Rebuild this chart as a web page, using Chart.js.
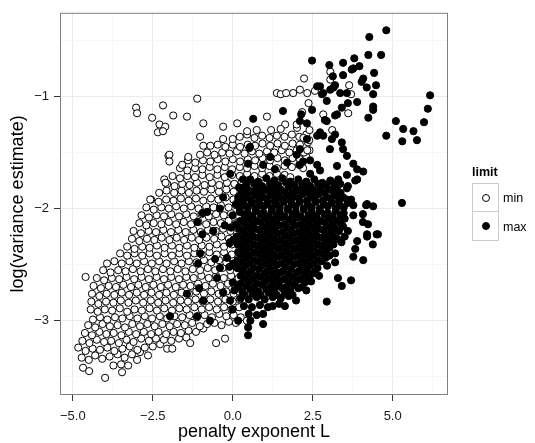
<!DOCTYPE html>
<html>
<head>
<meta charset="utf-8">
<script src="https://cdn.jsdelivr.net/npm/chart.js@4.4.1/dist/chart.umd.min.js"></script>
<style>
  html, body { margin: 0; padding: 0; background: #fff; }
  #wrap { position: relative; width: 535px; height: 443px; }
  #plot { position: absolute; left: 0; top: 0; }
  #legend { position: absolute; left: 472px; top: 165px; font-family: "Liberation Sans", Arial, sans-serif; color: #000; }
  .lg-title { font-size: 12.5px; font-weight: bold; line-height: 15px; height: 18px; }
  .lg-row { display: flex; align-items: center; height: 29px; }
  .lg-key { position: relative; width: 27px; height: 29px; box-sizing: border-box; border: 1px solid #cccccc; background: #fff; }
  .lg-row + .lg-row .lg-key { border-top: none; }
  .lg-dot { position: absolute; left: 50%; top: 50%; width: 6px; height: 6px; margin: -4px 0 0 -4px; border: 1px solid #000; border-radius: 50%; }
  .lg-lab { font-size: 12.5px; margin-left: 4px; }
</style>
</head>
<body>
<div id="wrap">
  <canvas id="plot" width="535" height="443"></canvas>
  <div id="legend"></div>
</div>
<script>
'use strict';

// ── Axes ──────────────────────────────────────────────────────────
const X_MIN = -5.4, X_MAX = 6.73;
const Y_MIN = -3.663, Y_MAX = -0.254;
const xMajor       = [-5, -2.5, 0, 2.5, 5];
const xMajorLabels = ['\u22125.0', '\u22122.5', '0.0', '2.5', '5.0'];
const xMinor       = [-3.75, -1.25, 1.25, 3.75, 6.25];
const yMajor       = [-3, -2, -1];
const yMajorLabels = ['\u22123', '\u22122', '\u22121'];
const yMinor       = [-3.5, -2.5, -1.5, -0.5];

const X_TITLE = 'penalty exponent L';
const Y_TITLE = 'log(variance estimate)';
const LEGEND_TITLE = 'limit';
const SERIES_NAMES = ['min', 'max'];

// ── Data (x = penalty exponent L, y = log variance estimate) ──────
const minPoints = [
  [-4.68,-3.42],[-4.49,-3.45],[-3.99,-3.51],[-3.73,-3.40],[-3.46,-3.46],[-3.49,-3.39],[-3.27,-3.40],[-2.99,-3.35],
  [-4.72,-3.33],[-4.5,-3.35],[-4.3,-3.31],[-4.08,-3.34],[-3.85,-3.32],[-3.6,-3.3],[-3.38,-3.33],[-3.15,-3.3],[-2.9,-3.28],[-2.65,-3.31],
  [-4.83,-3.24],[-4.6,-3.27],[-4.38,-3.25],[-4.15,-3.26],[-3.92,-3.24],[-3.7,-3.27],[-3.45,-3.25],[-3.22,-3.23],[-2.98,-3.26],[-2.75,-3.24],[-2.5,-3.23],[-2.27,-3.21],[-2.05,-3.25],[-1.89,-3.25],
  [-4.7,-3.18],[-4.48,-3.2],[-4.25,-3.17],[-4.02,-3.19],[-3.8,-3.18],[-3.56,-3.2],[-3.32,-3.17],[-3.1,-3.19],[-2.86,-3.16],[-2.62,-3.18],[-2.4,-3.16],[-2.15,-3.17],[-1.92,-3.18],[-1.68,-3.16],[-1.45,-3.15],[-1.33,-3.2],[-0.52,-3.2],[-0.24,-3.16],
  [-4.62,-3.11],[-4.4,-3.13],[-4.17,-3.1],[-3.95,-3.12],[-3.72,-3.11],[-3.48,-3.13],[-3.25,-3.1],[-3.02,-3.12],[-2.78,-3.1],[-2.55,-3.12],[-2.32,-3.1],[-2.08,-3.12],[-1.85,-3.1],[-1.62,-3.11],[-1.38,-3.09],[-1.15,-3.1],[-0.92,-3.07],
  [-4.52,-3.04],[-4.3,-3.06],[-4.07,-3.03],[-3.84,-3.05],[-3.6,-3.04],[-3.37,-3.06],[-3.14,-3.03],[-2.9,-3.05],[-2.67,-3.03],[-2.44,-3.05],[-2.2,-3.03],[-1.97,-3.05],[-1.74,-3.03],[-1.5,-3.04],[-1.27,-3.02],[-1.03,-3.05],[-0.8,-3.03],[-0.57,-3.02],[-0.35,-3.04],[-0.12,-3.01],[0.1,-3.02],[0.44,-3.0],
  [-4.37,-2.99],[-4.15,-2.97],[-3.92,-2.99],[-3.68,-2.97],[-3.45,-2.98],[-3.22,-2.96],[-2.98,-2.98],[-2.75,-2.96],[-2.52,-2.98],[-2.28,-2.96],[-2.05,-2.98],[-1.82,-2.96],[-1.58,-2.97],[-1.35,-2.95],[-1.12,-2.97],[-0.88,-2.95],[-0.65,-2.97],[-0.42,-2.94],[-0.2,-2.96],[0.03,-2.95],[0.25,-2.97],
  [-4.44,-2.9],[-4.22,-2.92],[-4.0,-2.9],[-3.77,-2.91],[-3.53,-2.89],[-3.3,-2.92],[-3.07,-2.9],[-2.84,-2.91],[-2.6,-2.89],[-2.37,-2.91],[-2.14,-2.89],[-1.9,-2.91],[-1.67,-2.89],[-1.44,-2.9],[-1.2,-2.88],[-0.97,-2.9],[-0.74,-2.88],[-0.5,-2.9],[-0.27,-2.88],[-0.04,-2.9],[0.2,-2.88],
  [-4.42,-2.83],[-4.2,-2.85],[-3.96,-2.83],[-3.73,-2.84],[-3.5,-2.82],[-3.26,-2.84],[-3.03,-2.82],[-2.8,-2.84],[-2.56,-2.82],[-2.33,-2.84],[-2.1,-2.82],[-1.86,-2.84],[-1.63,-2.82],[-1.4,-2.83],[-1.16,-2.81],[-0.93,-2.83],[-0.7,-2.81],[-0.46,-2.83],[-0.23,-2.81],[0.0,-2.83],[0.22,-2.81],
  [-4.4,-2.76],[-4.17,-2.78],[-3.94,-2.76],[-3.7,-2.77],[-3.47,-2.75],[-3.24,-2.77],[-3.0,-2.75],[-2.77,-2.77],[-2.54,-2.75],[-2.3,-2.77],[-2.07,-2.75],[-1.84,-2.77],[-1.6,-2.75],[-1.37,-2.76],[-1.14,-2.74],[-0.9,-2.76],[-0.67,-2.74],[-0.44,-2.76],[-0.2,-2.74],[0.03,-2.76],[0.2,-2.74],
  [-4.35,-2.69],[-4.12,-2.71],[-3.88,-2.69],[-3.65,-2.7],[-3.42,-2.68],[-3.18,-2.7],[-2.95,-2.68],[-2.72,-2.7],[-2.48,-2.68],[-2.25,-2.7],[-2.02,-2.68],[-1.78,-2.7],[-1.55,-2.68],[-1.32,-2.69],[-1.08,-2.67],[-0.85,-2.69],[-0.62,-2.67],[-0.38,-2.69],[-0.15,-2.67],[0.08,-2.69],
  [-4.6,-2.61],[-4.25,-2.62],[-4.02,-2.64],[-3.78,-2.62],[-3.55,-2.63],[-3.32,-2.61],[-3.08,-2.63],[-2.85,-2.61],[-2.62,-2.63],[-2.38,-2.61],[-2.15,-2.63],[-1.92,-2.61],[-1.68,-2.63],[-1.45,-2.61],[-1.22,-2.62],[-0.98,-2.6],[-0.75,-2.62],[-0.52,-2.6],[-0.28,-2.62],[-0.05,-2.6],[0.18,-2.62],
  [-4.05,-2.55],[-3.82,-2.57],[-3.58,-2.55],[-3.35,-2.56],[-3.12,-2.54],[-2.88,-2.56],[-2.65,-2.54],[-2.42,-2.56],[-2.18,-2.54],[-1.95,-2.56],[-1.72,-2.54],[-1.48,-2.56],[-1.25,-2.54],[-1.02,-2.55],[-0.78,-2.53],[-0.55,-2.55],[-0.32,-2.53],[-0.08,-2.55],[0.15,-2.53],
  [-3.93,-2.49],[-3.7,-2.47],[-3.47,-2.49],[-3.23,-2.47],[-3.0,-2.49],[-2.77,-2.47],[-2.53,-2.49],[-2.3,-2.47],[-2.07,-2.49],[-1.83,-2.47],[-1.6,-2.49],[-1.37,-2.47],[-1.13,-2.48],[-0.9,-2.46],[-0.67,-2.48],[-0.43,-2.46],[-0.2,-2.48],[0.03,-2.46],[0.25,-2.48],
  [-3.52,-2.4],[-3.3,-2.42],[-3.07,-2.4],[-2.83,-2.42],[-2.6,-2.4],[-2.37,-2.42],[-2.13,-2.4],[-1.9,-2.42],[-1.67,-2.4],[-1.43,-2.42],[-1.2,-2.4],[-0.97,-2.41],[-0.73,-2.39],[-0.5,-2.41],[-0.27,-2.39],[-0.03,-2.41],[0.2,-2.39],[0.3,-2.43],
  [-3.3,-2.34],[-3.07,-2.36],[-2.83,-2.34],[-2.6,-2.35],[-2.37,-2.33],[-2.13,-2.35],[-1.9,-2.33],[-1.67,-2.35],[-1.43,-2.33],[-1.2,-2.35],[-0.97,-2.33],[-0.73,-2.34],[-0.5,-2.32],[-0.27,-2.34],[-0.03,-2.32],[0.2,-2.34],
  [-3.15,-2.27],[-2.92,-2.29],[-2.68,-2.27],[-2.45,-2.28],[-2.22,-2.26],[-1.98,-2.28],[-1.75,-2.26],[-1.52,-2.28],[-1.28,-2.26],[-1.05,-2.28],[-0.82,-2.26],[-0.58,-2.27],[-0.35,-2.25],[-0.12,-2.27],[0.12,-2.25],[0.35,-2.27],
  [-3.1,-2.2],[-2.87,-2.22],[-2.63,-2.2],[-2.4,-2.21],[-2.17,-2.19],[-1.93,-2.21],[-1.7,-2.19],[-1.47,-2.21],[-1.23,-2.19],[-1.0,-2.21],[-0.77,-2.19],[-0.53,-2.2],[-0.3,-2.18],[-0.07,-2.2],[0.17,-2.18],[0.4,-2.2],
  [-2.92,-2.13],[-2.7,-2.15],[-2.47,-2.13],[-2.23,-2.14],[-2.0,-2.12],[-1.77,-2.14],[-1.53,-2.12],[-1.3,-2.14],[-1.07,-2.12],[-0.83,-2.14],[-0.6,-2.12],[-0.37,-2.13],[-0.13,-2.11],[0.1,-2.13],[0.33,-2.11],[0.5,-2.14],
  [-2.85,-2.06],[-2.62,-2.08],[-2.38,-2.06],[-2.15,-2.07],[-1.92,-2.05],[-1.68,-2.07],[-1.45,-2.05],[-1.22,-2.07],[-0.98,-2.05],[-0.75,-2.07],[-0.52,-2.05],[-0.28,-2.06],[-0.05,-2.04],[0.18,-2.06],[0.42,-2.04],[0.6,-2.07],
  [-2.7,-1.99],[-2.47,-2.01],[-2.23,-1.99],[-2.0,-2.0],[-1.77,-1.98],[-1.53,-2.0],[-1.3,-1.98],[-1.07,-2.0],[-0.83,-1.98],[-0.6,-1.99],[-0.37,-1.97],[-0.13,-1.99],[0.1,-1.97],[0.33,-1.99],[0.57,-1.97],[0.8,-1.99],[1.0,-1.97],
  [-2.55,-1.92],[-2.32,-1.94],[-2.08,-1.92],[-1.85,-1.93],[-1.62,-1.91],[-1.38,-1.93],[-1.15,-1.91],[-0.92,-1.93],[-0.68,-1.91],[-0.45,-1.92],[-0.22,-1.9],[0.02,-1.92],[0.25,-1.9],[0.48,-1.92],[0.72,-1.9],[0.95,-1.92],[1.18,-1.9],[1.4,-1.92],
  [-2.3,-1.86],[-2.07,-1.84],[-1.83,-1.86],[-1.6,-1.84],[-1.37,-1.86],[-1.13,-1.84],[-0.9,-1.85],[-0.67,-1.83],[-0.43,-1.85],[-0.2,-1.83],[0.03,-1.85],[0.27,-1.83],[0.5,-1.85],[0.73,-1.83],[0.97,-1.84],[1.2,-1.82],[1.45,-1.84],
  [-2.05,-1.78],[-1.82,-1.8],[-1.58,-1.78],[-1.35,-1.79],[-1.12,-1.77],[-0.88,-1.79],[-0.65,-1.77],[-0.42,-1.79],[-0.18,-1.77],[0.05,-1.78],[0.28,-1.76],[0.52,-1.78],[0.75,-1.76],[0.98,-1.78],[1.22,-1.76],[1.45,-1.77],[1.6,-1.8],
  [-1.88,-1.71],[-1.65,-1.73],[-1.42,-1.71],[-1.18,-1.72],[-0.95,-1.7],[-0.72,-1.72],[-0.48,-1.7],[-0.25,-1.72],[-0.02,-1.7],[0.22,-1.71],[0.45,-1.69],[0.68,-1.71],[0.92,-1.69],[1.15,-1.71],[1.38,-1.69],[1.62,-1.7],[1.8,-1.72],
  [-1.65,-1.64],[-1.42,-1.66],[-1.18,-1.64],[-0.95,-1.65],[-0.72,-1.63],[-0.48,-1.65],[-0.25,-1.63],[-0.02,-1.65],[0.22,-1.63],[0.45,-1.64],[0.68,-1.62],[0.92,-1.64],[1.15,-1.62],[1.38,-1.64],[1.62,-1.62],[1.85,-1.63],[2.08,-1.61],[2.2,-1.64],
  [-1.58,-1.61],[-1.4,-1.57],[-1.17,-1.59],[-0.93,-1.57],[-0.7,-1.58],[-0.47,-1.56],[-0.23,-1.58],[0.0,-1.56],[0.23,-1.58],[0.47,-1.56],[0.7,-1.57],[0.93,-1.55],[1.17,-1.57],[1.4,-1.55],[1.63,-1.57],[1.87,-1.55],[2.1,-1.56],[2.3,-1.54],
  [-2.01,-1.53],[-1.39,-1.54],[-1.02,-1.52],[-0.8,-1.5],[-0.57,-1.52],[-0.33,-1.5],[-0.1,-1.51],[0.13,-1.49],[0.37,-1.51],[0.6,-1.49],[0.83,-1.51],[1.07,-1.49],[1.3,-1.5],[1.53,-1.48],[1.77,-1.5],[2.0,-1.48],[2.23,-1.5],[2.4,-1.48],
  [-0.92,-1.44],[-0.7,-1.44],[-0.47,-1.43],[-0.23,-1.45],[0.0,-1.43],[0.23,-1.45],[0.47,-1.43],[0.7,-1.44],[0.93,-1.42],[1.17,-1.44],[1.4,-1.42],[1.63,-1.44],[1.87,-1.42],[2.1,-1.43],[2.35,-1.41],
  [-1.02,-1.36],[-0.3,-1.38],[0.0,-1.38],[0.22,-1.36],[0.45,-1.34],[0.68,-1.37],[0.92,-1.35],[1.15,-1.37],[1.38,-1.35],[1.62,-1.36],[1.85,-1.34],[2.08,-1.36],[2.3,-1.34],
  [0.45,-1.31],[0.75,-1.3],[1.07,-1.18],[1.2,-1.3],[1.64,-1.25],[1.5,-1.29],[2.01,-1.28],[2.21,-1.37],[2.4,-1.3],[2.0,-1.25],
  // scattered above the main cloud
  [-1.11,-1.02],[-2.18,-1.08],[-3.02,-1.10],[-2.99,-1.15],[-2.52,-1.19],[-1.86,-1.17],[-1.43,-1.18],[-2.29,-1.25],[-2.11,-1.27],
  [-2.34,-1.32],[-2.18,-1.31],[-0.92,-1.24],[-0.3,-1.27],[0.14,-1.24],[-1.98,-1.52],[-1.98,-1.58],[-2.14,-1.74],[-2.1,-1.77],[-2.58,-1.92],
  [1.38,-0.97],[1.5,-0.98],[1.67,-0.97],[1.89,-0.97],[2.1,-0.94],[2.33,-0.97],[2.57,-0.95],[2.23,-0.84],[3.05,-0.78],[3.05,-0.85],
  [3.64,-0.90],[3.7,-0.98],[2.37,-1.06],[2.17,-1.14],[2.83,-1.16],[3.61,-1.15],[3.11,-1.30],[2.39,-1.39],[2.33,-1.48]
];

const maxPoints = [
  [0.52,-1.46],[1.17,-1.54],[2.1,-1.47],[2.32,-1.38],[2.64,-1.35],[2.73,-1.32],[3.1,-1.38],[3.41,-1.41],[3.45,-1.47],[3.57,-1.53],[0.64,-1.2],[1.57,-1.13],[2.14,-1.16],[3.04,-1.47],
  [0.95,-1.61],[1.32,-1.65],[1.7,-1.59],[2.1,-1.61],[2.42,-1.69],[2.73,-1.66],[3.26,-1.62],[3.77,-1.6],[3.89,-1.65],[4.08,-1.67],[3.57,-1.7],[3.89,-1.74],[3.36,-1.78],[2.0,-1.52],[2.42,-1.57],[2.64,-1.61],[2.2,-1.58],
  [0.55,-1.74],[0.8,-1.76],[1.05,-1.73],[1.3,-1.75],[1.55,-1.73],[1.8,-1.76],[2.05,-1.74],[2.3,-1.76],[2.55,-1.74],[2.8,-1.77],[3.05,-1.75],[3.3,-1.74],[3.6,-1.8],
  [0.25,-1.82],[0.5,-1.84],[0.75,-1.82],[1.0,-1.83],[1.25,-1.81],[1.5,-1.83],[1.75,-1.81],[2.0,-1.83],[2.25,-1.81],[2.5,-1.83],[2.75,-1.81],[3.0,-1.83],[3.25,-1.82],[3.57,-1.82],[3.83,-1.75],
  [0.2,-1.89],[0.45,-1.9],[0.7,-1.88],[0.95,-1.9],[1.2,-1.88],[1.45,-1.9],[1.7,-1.88],[1.95,-1.89],[2.2,-1.87],[2.45,-1.89],[2.7,-1.87],[2.95,-1.9],[3.2,-1.88],[3.45,-1.9],[3.7,-1.92],
  [0.1,-1.96],[0.35,-1.97],[0.6,-1.95],[0.85,-1.97],[1.1,-1.95],[1.35,-1.96],[1.6,-1.94],[1.85,-1.96],[2.1,-1.94],[2.35,-1.96],[2.6,-1.94],[2.85,-1.96],[3.1,-1.95],[3.35,-1.97],[3.6,-1.95],[3.77,-1.97],[4.17,-1.97],[4.39,-1.98],[4.2,-1.96],[5.29,-1.95],
  [0.0,-2.06],[0.22,-2.03],[0.47,-2.04],[0.72,-2.02],[0.97,-2.04],[1.22,-2.02],[1.47,-2.03],[1.72,-2.01],[1.97,-2.03],[2.22,-2.01],[2.47,-2.03],[2.72,-2.02],[2.97,-2.04],[3.22,-2.02],[3.47,-2.04],[3.77,-2.06],[4.07,-2.05],
  [0.25,-2.11],[0.5,-2.09],[0.75,-2.11],[1.0,-2.09],[1.25,-2.1],[1.5,-2.08],[1.75,-2.1],[2.0,-2.08],[2.25,-2.1],[2.5,-2.09],[2.75,-2.11],[3.0,-2.09],[3.25,-2.11],[3.5,-2.09],[4.07,-2.12],[4.23,-2.14],
  [-0.05,-2.17],[0.2,-2.18],[0.45,-2.16],[0.7,-2.18],[0.95,-2.16],[1.2,-2.17],[1.45,-2.15],[1.7,-2.17],[1.95,-2.15],[2.2,-2.17],[2.45,-2.16],[2.7,-2.18],[2.95,-2.16],[3.2,-2.18],[3.45,-2.16],[3.6,-2.2],
  [0.15,-2.25],[0.4,-2.23],[0.65,-2.25],[0.9,-2.23],[1.15,-2.24],[1.4,-2.22],[1.65,-2.24],[1.9,-2.22],[2.15,-2.24],[2.4,-2.23],[2.65,-2.25],[2.9,-2.23],[3.15,-2.25],[3.5,-2.25],[4.2,-2.23],[4.54,-2.23],[4.2,-2.25],
  [-0.1,-2.31],[0.15,-2.32],[0.4,-2.3],[0.65,-2.32],[0.9,-2.3],[1.15,-2.31],[1.4,-2.29],[1.65,-2.31],[1.9,-2.29],[2.15,-2.31],[2.4,-2.3],[2.65,-2.32],[2.9,-2.3],[3.15,-2.32],[3.4,-2.3],[3.89,-2.29],[4.38,-2.32],[4.5,-2.23],
  [0.17,-2.39],[0.42,-2.37],[0.67,-2.39],[0.92,-2.37],[1.17,-2.38],[1.42,-2.36],[1.67,-2.38],[1.92,-2.36],[2.17,-2.38],[2.42,-2.37],[2.67,-2.39],[2.92,-2.37],[3.2,-2.4],[3.83,-2.36],
  [0.15,-2.46],[0.4,-2.44],[0.65,-2.46],[0.9,-2.44],[1.15,-2.45],[1.4,-2.43],[1.65,-2.45],[1.9,-2.43],[2.15,-2.45],[2.4,-2.44],[2.65,-2.46],[2.9,-2.44],[3.2,-2.48],[3.77,-2.43],[4.08,-2.46],
  [-0.1,-2.52],[0.15,-2.53],[0.4,-2.51],[0.65,-2.53],[0.9,-2.51],[1.15,-2.52],[1.4,-2.5],[1.65,-2.52],[1.9,-2.5],[2.15,-2.52],[2.4,-2.51],[2.65,-2.53],[2.95,-2.51],
  [0.25,-2.6],[0.5,-2.58],[0.75,-2.6],[1.0,-2.58],[1.25,-2.59],[1.5,-2.57],[1.75,-2.59],[2.0,-2.57],[2.25,-2.59],[2.5,-2.58],[2.7,-2.6],[3.29,-2.62],[3.41,-2.69],[3.7,-2.64],
  [0.0,-2.66],[0.25,-2.67],[0.5,-2.65],[0.75,-2.67],[1.0,-2.65],[1.25,-2.66],[1.5,-2.64],[1.75,-2.66],[2.0,-2.64],[2.25,-2.66],[2.45,-2.65],
  [0.05,-2.73],[0.3,-2.74],[0.55,-2.72],[0.8,-2.74],[1.05,-2.72],[1.3,-2.73],[1.55,-2.71],[1.8,-2.73],[2.05,-2.71],[2.3,-2.73],
  [0.25,-2.8],[0.5,-2.81],[0.75,-2.79],[1.0,-2.81],[1.25,-2.79],[1.5,-2.8],[1.75,-2.78],[1.98,-2.82],[2.94,-2.83],
  [0.35,-2.87],[0.6,-2.88],[0.85,-2.86],[1.1,-2.88],[1.25,-2.87],[1.63,-2.87],[1.45,-2.85],
  [0.5,-2.94],[0.75,-2.95],[0.95,-3.03],[0.95,-2.94],[0.48,-3.13],[0.48,-3.06],[0.55,-3.0],
  // dense core, between the rows above
  [0.42,-1.79],[0.67,-1.78],[0.92,-1.8],[1.17,-1.78],[1.42,-1.79],[1.67,-1.77],[1.92,-1.79],[2.17,-1.78],[2.42,-1.8],[2.67,-1.78],[2.92,-1.79],[3.17,-1.78],
  [0.37,-1.86],[0.62,-1.85],[0.87,-1.86],[1.12,-1.84],[1.37,-1.86],[1.62,-1.85],[1.87,-1.86],[2.12,-1.84],[2.37,-1.86],[2.62,-1.85],[2.87,-1.86],[3.12,-1.84],[3.37,-1.86],
  [0.32,-1.93],[0.57,-1.92],[0.82,-1.93],[1.07,-1.91],[1.32,-1.93],[1.57,-1.92],[1.82,-1.93],[2.07,-1.91],[2.32,-1.93],[2.57,-1.92],[2.82,-1.93],[3.07,-1.91],[3.32,-1.93],[3.57,-1.92],
  [0.22,-2.0],[0.47,-1.99],[0.72,-2.0],[0.97,-1.98],[1.22,-2.0],[1.47,-1.99],[1.72,-2.0],[1.97,-1.98],[2.22,-2.0],[2.47,-1.99],[2.72,-2.0],[2.97,-1.98],[3.22,-2.0],[3.47,-1.99],
  [0.37,-2.06],[0.62,-2.07],[0.87,-2.05],[1.12,-2.07],[1.37,-2.06],[1.62,-2.07],[1.87,-2.05],[2.12,-2.07],[2.37,-2.06],[2.62,-2.07],[2.87,-2.05],[3.12,-2.07],[3.37,-2.06],
  [0.12,-2.14],[0.37,-2.13],[0.62,-2.14],[0.87,-2.12],[1.12,-2.14],[1.37,-2.13],[1.62,-2.14],[1.87,-2.12],[2.12,-2.14],[2.37,-2.13],[2.62,-2.14],[2.87,-2.12],[3.12,-2.14],[3.37,-2.13],
  [0.32,-2.2],[0.57,-2.21],[0.82,-2.19],[1.07,-2.21],[1.32,-2.2],[1.57,-2.21],[1.82,-2.19],[2.07,-2.21],[2.32,-2.2],[2.57,-2.21],[2.82,-2.19],[3.07,-2.21],[3.32,-2.2],
  [0.02,-2.28],[0.27,-2.27],[0.52,-2.28],[0.77,-2.26],[1.02,-2.28],[1.27,-2.27],[1.52,-2.28],[1.77,-2.26],[2.02,-2.28],[2.27,-2.27],[2.52,-2.28],[2.77,-2.26],[3.02,-2.28],[3.27,-2.27],
  [0.27,-2.34],[0.52,-2.35],[0.77,-2.33],[1.02,-2.35],[1.27,-2.34],[1.52,-2.35],[1.77,-2.33],[2.02,-2.35],[2.27,-2.34],[2.52,-2.35],[2.77,-2.33],[3.02,-2.35],
  [0.27,-2.41],[0.52,-2.42],[0.77,-2.4],[1.02,-2.42],[1.27,-2.41],[1.52,-2.42],[1.77,-2.4],[2.02,-2.42],[2.27,-2.41],[2.52,-2.42],[2.77,-2.4],[3.02,-2.42],
  [0.02,-2.49],[0.27,-2.48],[0.52,-2.49],[0.77,-2.47],[1.02,-2.49],[1.27,-2.48],[1.52,-2.49],[1.77,-2.47],[2.02,-2.49],[2.27,-2.48],[2.52,-2.49],[2.77,-2.47],
  [0.32,-2.55],[0.57,-2.56],[0.82,-2.54],[1.07,-2.56],[1.32,-2.55],[1.57,-2.56],[1.82,-2.54],[2.07,-2.56],[2.32,-2.55],[2.57,-2.56],
  [0.37,-2.62],[0.62,-2.63],[0.87,-2.61],[1.12,-2.63],[1.37,-2.62],[1.62,-2.63],[1.87,-2.61],[2.12,-2.63],[2.37,-2.62],
  [0.17,-2.7],[0.42,-2.69],[0.67,-2.7],[0.92,-2.68],[1.17,-2.7],[1.42,-2.69],[1.67,-2.7],[1.92,-2.68],[2.17,-2.7],
  [0.37,-2.77],[0.62,-2.76],[0.87,-2.77],[1.12,-2.75],[1.37,-2.77],[1.62,-2.76],[1.87,-2.77],
  // mixed in with the min cloud
  [-1.11,-2.12],[-1.02,-2.40],[-1.05,-2.71],[-1.43,-2.76],[-1.96,-2.96],[-0.71,-3.0],[0.0,-2.9],[0.17,-3.0],[-0.49,-2.62],[-0.08,-2.82],
  [-0.18,-2.44],[-0.08,-2.3],[0.22,-1.92],[-0.8,-2.03],[-0.4,-2.0],[-0.61,-2.2],[-0.4,-2.53],[-0.95,-2.04],[-0.95,-2.23],[-1.08,-2.49],
  [-0.92,-2.82],[-1.11,-2.96],[-0.3,-2.75],[-0.55,-2.45],[-0.25,-2.15],[-0.3,-1.9],[0.32,-1.74],[0.2,-1.81],[-0.08,-1.69],[0.54,-1.45],[0.48,-1.6],[0.17,-1.91],
  // upper right
  [4.8,-0.41],[4.27,-0.47],[4.64,-0.63],[4.24,-0.63],[3.8,-0.66],[3.45,-0.70],[3.02,-0.72],[2.48,-0.68],[3.96,-0.73],[3.72,-0.76],
  [3.45,-0.81],[4.42,-0.79],[4.03,-0.87],[4.19,-0.92],[4.48,-0.90],[4.39,-0.98],[4.39,-1.09],[4.24,-1.19],[3.89,-1.05],[3.6,-1.06],
  [3.36,-0.97],[3.41,-1.10],[3.05,-0.94],[3.13,-0.82],[3.2,-0.9],[2.94,-1.04],[2.88,-1.21],[3.2,-1.17],[3.26,-1.16],[2.48,-1.12],
  [2.32,-1.24],[2.64,-0.91],[2.83,-0.97],[2.73,-0.91],[2.79,-0.98],[2.94,-1.22],[2.83,-1.35],[3.2,-1.34],[3.77,-0.75],[4.08,-0.84],
  [3.57,-0.97],[3.15,-0.92],[2.1,-1.22],[4.39,-1.12],
  [6.17,-0.99],[6.1,-1.11],[5.98,-1.23],[5.76,-1.39],[5.65,-1.31],[5.33,-1.29],[5.1,-1.22],[5.3,-1.40],[4.8,-1.35]
];

// ── Helpers ───────────────────────────────────────────────────────
const FONT = '"Liberation Sans", Arial, Helvetica, sans-serif';
const toXY = pts => pts.map(p => ({ x: p[0], y: p[1] }));
const isIn = (arr, v) => arr.some(a => Math.abs(a - v) < 1e-9);
function tickLabel(majors, labels, v) {
  const i = majors.findIndex(m => Math.abs(m - v) < 1e-9);
  return i < 0 ? '' : labels[i];
}
function axisTicks(majors, minors) {
  return majors.concat(minors).sort((a, b) => a - b).map(v => ({ value: v }));
}

// ── Plugins ───────────────────────────────────────────────────────
const panelBorder = {
  id: 'panelBorder',
  afterDraw(chart) {
    const { ctx, chartArea: a } = chart;
    ctx.save();
    ctx.strokeStyle = '#7f7f7f';
    ctx.lineWidth = 1;
    ctx.strokeRect(a.left + 0.5, a.top + 0.5, a.right - a.left - 1, a.bottom - a.top - 1);
    ctx.restore();
  }
};

// ── Chart ─────────────────────────────────────────────────────────
const ctx = document.getElementById('plot').getContext('2d');
const chart = new Chart(ctx, {
  type: 'scatter',
  data: {
    datasets: [
      { label: SERIES_NAMES[0], data: toXY(minPoints), order: 1,
        pointRadius: 3.6, pointBackgroundColor: '#ffffff', pointBorderColor: '#000000', pointBorderWidth: 1 },
      { label: SERIES_NAMES[1], data: toXY(maxPoints), order: 0,
        pointRadius: 3.6, pointBackgroundColor: '#000000', pointBorderColor: '#000000', pointBorderWidth: 1 },
    ],
  },
  options: {
    responsive: false,
    devicePixelRatio: 1,
    animation: false,
    events: [],
    layout: { padding: { top: 9, right: 87, left: 0, bottom: 0 } },
    plugins: { legend: { display: false }, tooltip: { enabled: false } },
    scales: {
      x: {
        type: 'linear', min: X_MIN, max: X_MAX,
        afterBuildTicks: s => { s.ticks = axisTicks(xMajor, xMinor); },
        afterFit: s => { s.height = 48; },
        ticks: {
          autoSkip: false, maxRotation: 0, padding: 8, color: '#1a1a1a',
          font: { family: FONT, size: 13 },
          callback: v => tickLabel(xMajor, xMajorLabels, v),
        },
        grid: {
          color: c => isIn(xMajor, c.tick.value) ? '#ebebeb' : '#f7f7f7',
          tickColor: c => isIn(xMajor, c.tick.value) ? '#333333' : 'rgba(0,0,0,0)',
          tickLength: 6,
        },
        border: { display: false },
        title: { display: true, text: X_TITLE, color: '#000', font: { family: FONT, size: 18 }, padding: { top: 0, bottom: 0 } },
      },
      y: {
        type: 'linear', min: Y_MIN, max: Y_MAX,
        afterBuildTicks: s => { s.ticks = axisTicks(yMajor, yMinor); },
        afterFit: s => { s.width = 60; },
        ticks: {
          autoSkip: false, padding: 5, color: '#1a1a1a',
          font: { family: FONT, size: 13 },
          callback: v => tickLabel(yMajor, yMajorLabels, v),
        },
        grid: {
          color: c => isIn(yMajor, c.tick.value) ? '#ebebeb' : '#f7f7f7',
          tickColor: c => isIn(yMajor, c.tick.value) ? '#333333' : 'rgba(0,0,0,0)',
          tickLength: 6,
        },
        border: { display: false },
        title: { display: true, text: Y_TITLE, color: '#000', font: { family: FONT, size: 18 }, padding: { top: 7, bottom: 0 } },
      },
    },
  },
  plugins: [panelBorder],
});

// ── Legend ────────────────────────────────────────────────────────
function renderLegend() {
  const el = document.getElementById('legend');
  el.innerHTML = `<div class="lg-title">${LEGEND_TITLE}</div>` + chart.data.datasets.map(d => `
    <div class="lg-row">
      <span class="lg-key"><i class="lg-dot" style="background:${d.pointBackgroundColor}"></i></span>
      <span class="lg-lab">${d.label}</span>
    </div>`).join('');
}
renderLegend();
</script>
</body>
</html>
